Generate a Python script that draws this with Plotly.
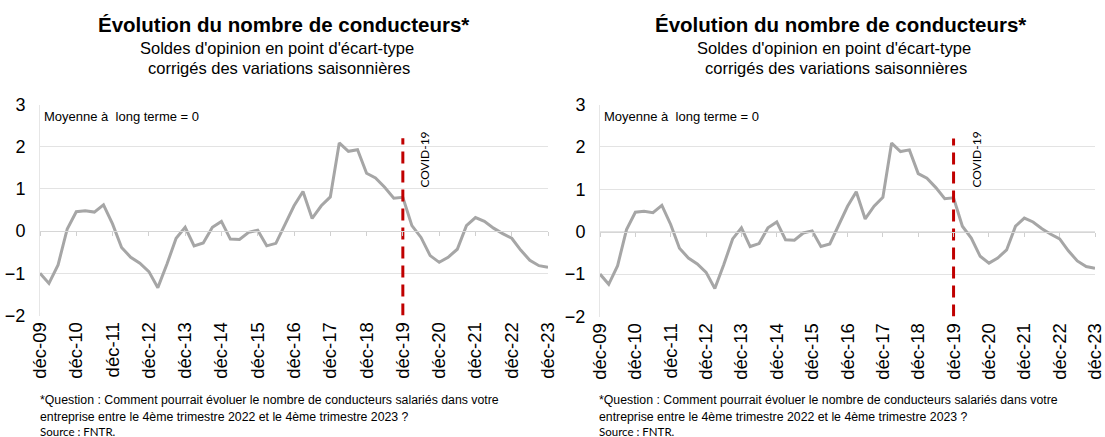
import plotly.graph_objects as go

# ---------------- data ----------------
quarters = [
    "2009-12", "2010-03", "2010-06", "2010-09", "2010-12", "2011-03", "2011-06", "2011-09",
    "2011-12", "2012-03", "2012-06", "2012-09", "2012-12", "2013-03", "2013-06", "2013-09",
    "2013-12", "2014-03", "2014-06", "2014-09", "2014-12", "2015-03", "2015-06", "2015-09",
    "2015-12", "2016-03", "2016-06", "2016-09", "2016-12", "2017-03", "2017-06", "2017-09",
    "2017-12", "2018-03", "2018-06", "2018-09", "2018-12", "2019-03", "2019-06", "2019-09",
    "2019-12", "2020-03", "2020-06", "2020-09", "2020-12", "2021-03", "2021-06", "2021-09",
    "2021-12", "2022-03", "2022-06", "2022-09", "2022-12", "2023-03", "2023-06", "2023-09",
    "2023-12",
]
soldes = [
    -1.00, -1.24, -0.80, 0.05, 0.46, 0.48, 0.45, 0.62, 0.17, -0.39,
    -0.62, -0.76, -0.96, -1.34, -0.78, -0.17, 0.09, -0.35, -0.28, 0.09,
    0.23, -0.19, -0.20, -0.03, 0.02, -0.35, -0.29, 0.17, 0.60, 0.94,
    0.30, 0.60, 0.81, 2.09, 1.89, 1.93, 1.37, 1.26, 1.04, 0.78,
    0.80, 0.13, -0.15, -0.58, -0.74, -0.62, -0.43, 0.13, 0.32, 0.23,
    0.07, -0.06, -0.17, -0.45, -0.69, -0.82, -0.86,
]
tick_dates = ["2009-12", "2010-12", "2011-12", "2012-12", "2013-12", "2014-12", "2015-12",
              "2016-12", "2017-12", "2018-12", "2019-12", "2020-12", "2021-12", "2022-12",
              "2023-12"]
tick_labels = ["déc-09", "déc-10", "déc-11", "déc-12", "déc-13", "déc-14", "déc-15",
               "déc-16", "déc-17", "déc-18", "déc-19", "déc-20", "déc-21", "déc-22",
               "déc-23"]
y_ticks = [-2, -1, 0, 1, 2, 3]
covid_date = "2019-12"
covid_span = [-2, 2.2]

title = "Évolution du nombre de conducteurs*"
subtitle1 = "Soldes d'opinion en point d'écart-type"
subtitle2 = "corrigés des variations saisonnières"
note1 = "*Question : Comment pourrait évoluer le nombre de conducteurs salariés dans votre"
note2 = "entreprise entre le 4ème trimestre 2022 et le 4ème trimestre 2023 ?"
source = "Source : FNTR."

# ---------------- layout constants ----------------
W, H = 1105, 437
FONT = "Liberation Sans, Arial, sans-serif"
LINE_GREY = "#A6A6A6"
GRID = "#E3E3E3"
RED = "#C00000"

panels = [
    dict(x0=40, x1=548, top=104.5, bottom=315.5, tc=283, nl=38),
    dict(x0=600, x1=1095, top=104.5, bottom=316.5, tc=840, nl=597),
]

fig = go.Figure()
layout = {}
annotations = []

for i, p in enumerate(panels):
    xa = "x" if i == 0 else f"x{2*i+1}"
    ya = "y" if i == 0 else f"y{i+1}"
    xo = f"x{2*i+2}"
    xa_key = "xaxis" if i == 0 else f"xaxis{2*i+1}"
    ya_key = "yaxis" if i == 0 else f"yaxis{i+1}"
    xo_key = f"xaxis{2*i+2}"

    xdom = [p["x0"] / W, p["x1"] / W]
    ydom = [1 - p["bottom"] / H, 1 - p["top"] / H]
    zero_pos = ydom[0] + (0 - (-2)) / 5 * (ydom[1] - ydom[0])

    fig.add_trace(go.Scatter(
        x=quarters, y=soldes, mode="lines", xaxis=xa, yaxis=ya,
        line=dict(color=LINE_GREY, width=3), showlegend=False, hoverinfo="x+y",
    ))
    fig.add_trace(go.Scatter(
        x=quarters, y=soldes, mode="lines", xaxis=xo, yaxis=ya,
        line=dict(width=0), opacity=0, showlegend=False, hoverinfo="skip",
    ))
    fig.add_trace(go.Scatter(
        x=[covid_date, covid_date], y=covid_span, mode="lines", xaxis=xa, yaxis=ya,
        line=dict(color=RED, width=3, dash="12px,7px"), showlegend=False, hoverinfo="skip",
    ))

    rng = [quarters[0], quarters[-1]]
    layout[xa_key] = dict(
        domain=xdom, anchor=ya, range=rng, type="date", automargin=False,
        tickmode="array", tickvals=tick_dates, ticktext=tick_labels,
        tickangle=-90, tickfont=dict(family=FONT, size=18.5, color="#000"),
        showgrid=False, showline=False, zeroline=False, ticks="",
        ticklabelstandoff=2, ticklabeloverflow="allow",
    )
    layout[xo_key] = dict(
        domain=xdom, anchor="free", overlaying=xa, position=zero_pos, automargin=False,
        range=rng, type="date", tickmode="array", tickvals=tick_dates,
        showticklabels=False, ticks="outside", ticklen=4, tickcolor="#D0D0D0",
        tickwidth=1, showline=True, linecolor="#D6D6D6", linewidth=1, showgrid=False,
        zeroline=False,
    )
    layout[ya_key] = dict(
        domain=ydom, anchor=xa, range=[-2, 3], tickmode="array", tickvals=y_ticks,
        tickfont=dict(family=FONT, size=18, color="#000"), automargin=False,
        showgrid=True, gridcolor=GRID, gridwidth=1, zeroline=False,
        showline=True, linecolor="#E6E6E6", linewidth=1, ticks="",
        ticklabelstandoff=10,
    )

    annotations += [
        dict(text=f"<b>{title}</b>", x=p["tc"] / W, y=1 - 24 / H, xref="paper", yref="paper",
             xanchor="center", yanchor="middle", showarrow=False,
             font=dict(family=FONT, size=20.5, color="#000")),
        dict(text=subtitle1, x=(p["tc"] - 6) / W, y=1 - 48 / H, xref="paper", yref="paper",
             xanchor="center", yanchor="middle", showarrow=False,
             font=dict(family=FONT, size=16.5, color="#000")),
        dict(text=subtitle2, x=(p["tc"] - 4) / W, y=1 - 68 / H, xref="paper", yref="paper",
             xanchor="center", yanchor="middle", showarrow=False,
             font=dict(family=FONT, size=16.5, color="#000")),
        dict(text="Moyenne à  long terme = 0", x=(p["x0"] + 2) / W, y=1 - 116 / H,
             xref="paper", yref="paper", xanchor="left", yanchor="middle", showarrow=False,
             font=dict(family=FONT, size=13, color="#000")),
        dict(text="COVID-19", x=covid_date, y=1.69, xref=xa, yref=ya, xshift=22,
             textangle=-90, xanchor="center", yanchor="middle", showarrow=False,
             font=dict(family="Lato, Open Sans, sans-serif", size=12, color="#000")),
        dict(text=note1, x=p["nl"] / W, y=1 - 400 / H, xref="paper", yref="paper",
             xanchor="left", yanchor="middle", showarrow=False,
             font=dict(family=FONT, size=12.3, color="#000")),
        dict(text=note2, x=p["nl"] / W, y=1 - 417 / H, xref="paper", yref="paper",
             xanchor="left", yanchor="middle", showarrow=False,
             font=dict(family=FONT, size=12.3, color="#000")),
        dict(text=source, x=p["nl"] / W, y=1 - 431 / H, xref="paper", yref="paper",
             xanchor="left", yanchor="middle", showarrow=False,
             font=dict(family="Lato, Open Sans, sans-serif", size=11.5, color="#000")),
    ]

fig.update_layout(
    width=W, height=H, margin=dict(l=0, r=0, t=0, b=0, autoexpand=False),
    paper_bgcolor="white", plot_bgcolor="white",
    annotations=annotations, showlegend=False,
    **layout,
)

fig.write_html(
    "out.html",
    config={"displayModeBar": False},
    post_script="document.body.style.margin='0';document.body.style.overflow='hidden';",
)
